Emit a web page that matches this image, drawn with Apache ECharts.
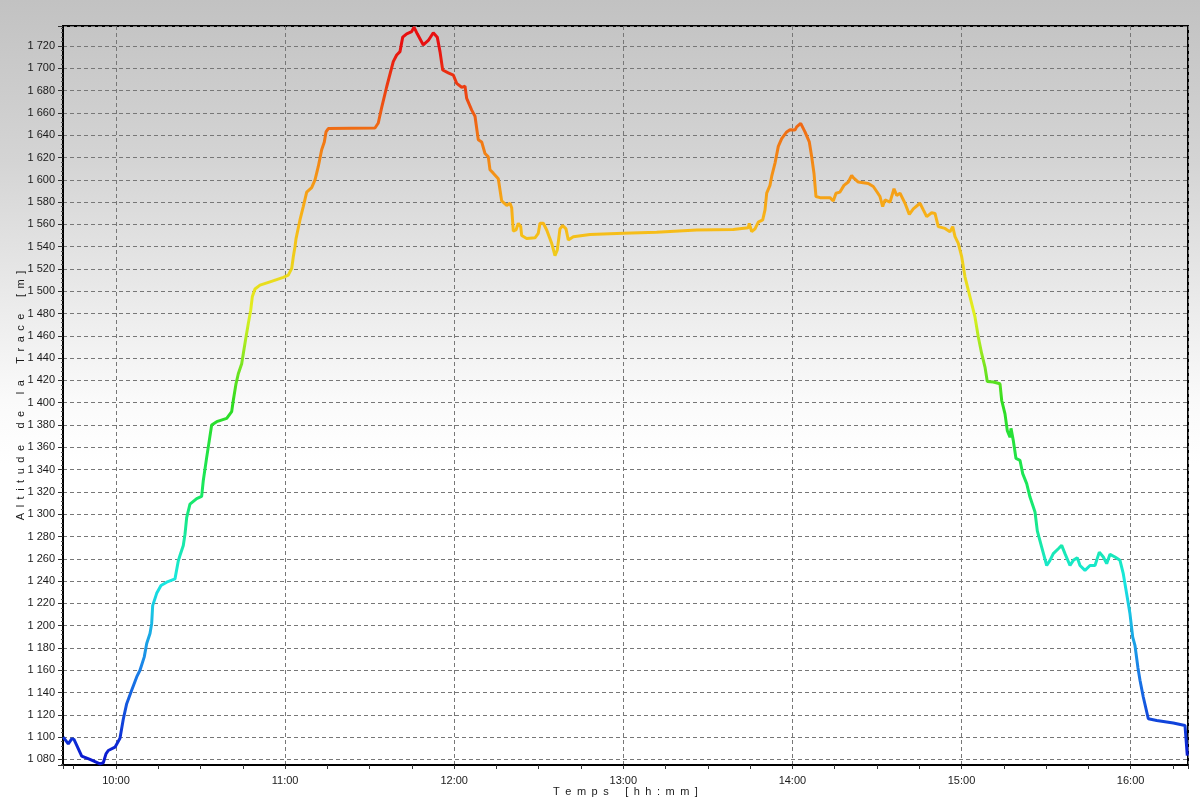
<!DOCTYPE html>
<html><head><meta charset="utf-8">
<script src="https://cdn.jsdelivr.net/npm/echarts@6.0.0/dist/echarts.min.js"></script>
<style>
html,body{margin:0;padding:0;width:1200px;height:800px;overflow:hidden}
body{background:linear-gradient(to bottom,#c2c2c2 0%,#d4d4d4 20%,#ebebeb 38%,#fafafa 50%,#ffffff 58%,#ffffff 100%)}
#c{width:1200px;height:800px}
</style></head><body><div id="c"></div>
<script>
// Track time stamps (HH:MM:SS) and altitude (m)
const times = [
"09:41:18","09:43:04","09:44:17","09:45:06","09:47:50","09:50:46","09:54:19","09:55:30","09:56:27","09:57:16",
"09:59:39","10:01:25","10:02:35","10:03:48","10:05:34","10:07:21","10:08:31","10:10:02","10:10:54","10:12:04",
"10:12:40","10:13:01","10:14:26","10:15:58","10:17:59","10:20:56","10:22:06","10:22:42","10:23:53","10:24:29",
"10:25:05","10:26:15","10:28:38","10:30:24","10:30:58","10:32:11","10:33:06","10:33:57","10:35:44","10:39:17",
"10:41:03","10:41:37","10:42:35","10:43:24","10:44:36","10:45:10","10:46:08","10:46:57","10:47:48","10:48:22",
"10:49:19","10:51:06","10:54:39","10:59:22","11:01:08","11:02:21","11:02:55","11:03:31","11:03:52","11:05:17",
"11:06:27","11:07:40","11:09:26","11:10:37","11:11:47","11:12:59","11:13:55","11:14:31","11:15:20","11:31:54",
"11:33:04","11:34:17","11:36:03","11:38:23","11:39:36","11:40:46","11:41:44","11:43:09","11:44:55","11:45:44",
"11:46:54","11:49:02","11:50:49","11:52:35","11:54:00","11:54:58","11:55:55","11:57:54","11:59:41","12:00:53",
"12:02:40","12:03:50","12:04:26","12:06:13","12:07:23","12:08:33","12:09:45","12:10:56","12:12:06","12:12:42",
"12:13:52","12:15:39","12:16:51","12:18:38","12:19:48","12:20:24","12:20:58","12:21:56","12:22:45","12:23:36",
"12:23:57","12:25:43","12:28:40","12:29:50","12:30:27","12:31:37","12:32:49","12:34:36","12:35:46","12:36:35",
"12:37:32","12:38:30","12:39:40","12:40:29","12:42:16","12:48:11","13:00:00","13:11:51","13:26:03","13:39:02",
"13:44:21","13:44:42","13:45:33","13:46:44","13:47:54","13:49:28","13:50:17","13:50:53","13:52:03","13:52:39",
"13:53:50","13:55:00","13:56:12","13:57:59","13:59:09","14:00:55","14:01:31","14:02:57","14:04:28","14:06:00",
"14:06:51","14:07:40","14:08:22","14:09:48","14:13:20","14:14:31","14:15:28","14:16:53","14:18:18","14:19:50",
"14:21:02","14:21:36","14:23:23","14:26:56","14:28:42","14:29:55","14:31:05","14:32:02","14:32:51","14:34:38",
"14:36:03","14:37:00","14:38:11","14:39:57","14:41:29","14:42:54","14:45:16","14:46:27","14:47:39","14:49:25",
"14:50:36","14:51:46","14:54:09","14:55:55","14:56:53","14:57:42","14:58:52","15:00:04","15:01:14","15:03:01",
"15:04:47","15:05:58","15:07:10","15:08:20","15:09:09","15:11:17","15:13:40","15:14:16","15:15:26","15:16:15",
"15:17:12","15:17:34","15:18:23","15:19:20","15:20:45","15:21:43","15:23:08","15:24:18","15:26:05","15:26:54",
"15:28:27","15:30:14","15:31:24","15:32:34","15:34:21","15:35:33","15:36:43","15:38:30","15:39:40","15:41:05",
"15:42:03","15:43:49","15:45:36","15:47:22","15:48:54","15:50:19","15:51:31","15:52:41","15:54:28","15:56:14",
"15:57:24","15:58:37","15:59:47","16:00:45","16:01:34","16:02:37","16:03:20","16:04:30","16:06:17","16:09:16",
"16:15:09","16:19:18","16:19:54","16:20:07"
];
const altitudes = [
1100,1094,1098.5,1098,1083,1080,1076,1077,1085,1088,
1091,1099,1116,1130,1142,1154,1160,1172,1184,1193,
1202,1218,1229,1236,1239,1242,1258,1263,1272,1282,
1297,1309,1314,1316,1330,1351,1366,1380,1383,1386,
1392,1402,1417,1426,1435,1444,1459,1471,1483,1495,
1502,1505.5,1508.5,1512.5,1514.5,1520.5,1531,1540,1547,1564,
1576,1589,1593,1600,1612,1627,1634,1643,1646,1646.5,
1651,1665,1683.5,1706,1712,1715,1728,1731,1733,1737,
1731,1721,1725,1732,1728,1715,1698.5,1696,1694,1686.5,
1683,1684,1673,1662.5,1657,1636,1634,1623.6,1620.6,1609,
1606,1601,1581,1577,1579,1575,1554,1555,1561,1558,
1550,1547.4,1548,1552,1561,1561,1555,1543,1532,1537,
1556,1559,1556,1546,1549,1551,1552,1553,1555,1555.5,
1557,1561,1553.5,1556,1562,1564,1573,1588,1595,1603,
1615,1630,1637,1643,1645,1644.6,1647.5,1650.6,1643,1634,
1620.6,1605.7,1585,1584,1584,1581,1588,1589,1595,1598,
1604,1602,1598,1596.7,1594,1589.5,1585,1576,1582,1580,
1592,1586,1588,1579,1569,1574,1579,1573,1567,1570.4,
1569.8,1558,1556.4,1553.3,1558,1549,1543,1531,1513,1495,
1477,1459,1444,1432,1419,1418.6,1417,1402,1390,1375,
1369,1377,1366,1350,1348.4,1336.4,1327.4,1315.4,1302,1285,
1270.5,1254,1258.6,1264.6,1269,1272,1264.6,1254,1258.6,1261,
1254,1249.6,1254,1254,1266,1261.6,1255.6,1264,1261.6,1258.6,
1246.6,1228.5,1210.6,1189.7,1182,1162,1151,1136,1116.5,1115,
1112.6,1110.5,1109,1083.5
];
const hourTicks = [10, 11, 12, 13, 14, 15, 16];
const xRange = ["09:41:12", "16:20:22"];
const yRange = [1075, 1738];
const xTitle = "Temps [hh:mm]";
const yTitle = "Altitude de la Trace [m]";
const colorStops = ["#0a18d0","#1a80e8","#18e8e0","#18e860","#30dc20","#e0f020","#f8b818","#f07414","#e81010"];

const toHours = s => { const p = s.split(':').map(Number); return p[0] + p[1]/60 + p[2]/3600; };
const spaced = s => s.split('').map(ch => ch === ' ' ? '\u2002' : ch).join('\u2002');
const data = times.map((t, i) => [toHours(t), altitudes[i]]);
const xMin = toHours(xRange[0]), xMax = toHours(xRange[1]);
const font = 'Liberation Sans, Arial, sans-serif';

const chart = echarts.init(document.getElementById('c'), null, {renderer: 'canvas'});
chart.setOption({
  animation: false,
  backgroundColor: 'transparent',
  grid: {left: 63, right: 12, top: 26, bottom: 35, show: true, borderColor: '#000', borderWidth: 2,
    backgroundColor: 'transparent', containLabel: false, outerBoundsMode: 'none'},
  visualMap: {show: false, type: 'continuous', dimension: 1, min: 1080, max: 1720, inRange: {color: colorStops}},
  xAxis: [{
    type: 'value', min: xMin, max: xMax, minInterval: 1, maxInterval: 1,
    axisLine: {show: true, onZero: false, lineStyle: {color: '#000', width: 2}},
    axisTick: {show: false},
    axisLabel: {color: '#1a1a1a', fontSize: 11, fontFamily: font, margin: 10, showMinLabel: false, showMaxLabel: false,
      formatter: v => hourTicks.indexOf(Math.round(v)) >= 0 && Math.abs(v - Math.round(v)) < 1e-6 ? Math.round(v) + ':00' : ''},
    splitLine: {show: true, lineStyle: {color: '#777', type: [4, 3], width: 1}},
    name: spaced(xTitle), nameLocation: 'middle', nameGap: 21, nameMoveOverlap: false,
    nameTextStyle: {color: '#1a1a1a', fontSize: 11, fontFamily: font}
  }, {
    type: 'value', position: 'bottom', min: xMin * 4, max: xMax * 4, minInterval: 1, maxInterval: 1,
    axisLine: {show: false, onZero: false}, axisLabel: {show: false}, splitLine: {show: false},
    axisTick: {show: true, length: 4, lineStyle: {color: '#333'}}
  }],
  yAxis: {
    type: 'value', min: yRange[0], max: yRange[1], minInterval: 20, maxInterval: 20,
    axisLine: {show: true, lineStyle: {color: '#000', width: 2}},
    axisTick: {show: true, length: 5, lineStyle: {color: '#333'}},
    minorTick: {show: true, splitNumber: 5, length: 2, lineStyle: {color: '#555'}},
    axisLabel: {color: '#1a1a1a', fontSize: 11, fontFamily: font, margin: 8, showMinLabel: false, showMaxLabel: false,
      formatter: v => String(v).replace(/\B(?=(\d{3})+(?!\d))/g, ' ')},
    splitLine: {show: true, lineStyle: {color: '#777', type: [4, 3], width: 1}},
    name: spaced(yTitle), nameLocation: 'middle', nameGap: 37, nameMoveOverlap: false,
    nameTextStyle: {color: '#1a1a1a', fontSize: 11, fontFamily: font}
  },
  series: [{
    type: 'line', data: data, xAxisIndex: 0, showSymbol: false, smooth: false,
    lineStyle: {width: 3}
  }]
});
</script></body></html>
